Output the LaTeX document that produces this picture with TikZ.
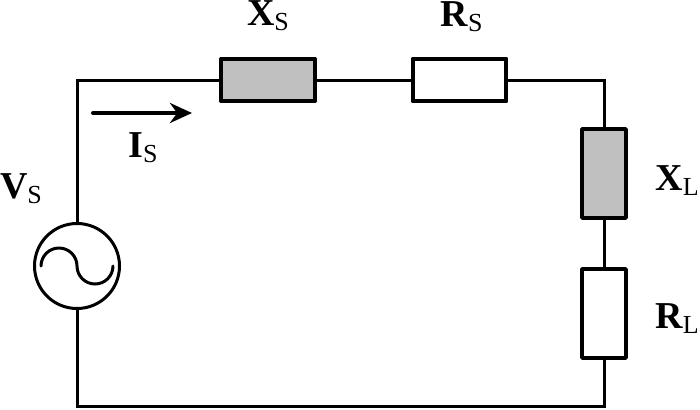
\documentclass[tikz,border=0pt]{standalone}
\usepackage{fontspec}
\setmainfont{Liberation Serif}
\usetikzlibrary{arrows.meta}
\definecolor{boxgray}{RGB}{192,192,192}
\newcommand{\cirlabel}[2]{\textbf{#1}\raisebox{-2.5pt}{\fontsize{13pt}{13pt}\selectfont #2}}
\tikzset{
  wire/.style={line width=1.5pt},
  imp/.style={draw, line width=2.2pt, line join=round, inner sep=0pt},
  zbox/.style={imp, fill=boxgray},
  rbox/.style={imp, fill=white},
  hor/.style={minimum width=46.75pt, minimum height=21.25pt},
  ver/.style={minimum width=21.75pt, minimum height=44.25pt},
  lbl/.style={anchor=base, inner sep=0pt, font=\fontsize{19pt}{19pt}\selectfont}
}
\begin{document}
\begin{tikzpicture}[x=0.5pt,y=0.5pt]
        \useasboundingbox (0,0) rectangle (700,409);

        % Corners
        \coordinate (tl) at (77,329);
        \coordinate (tr) at (604,329);
        \coordinate (br) at (604,3);
        \coordinate (bl) at (77,3);

        % Elements
        \node[zbox, hor] (xs) at (268,329) {};
        \node[rbox, hor] (rs) at (459.5,329) {};
        \node[zbox, ver] (xl) at (604,235.5) {};
        \node[rbox, ver] (rl) at (604,95.5) {};
        \node[draw, circle, wire, minimum size=42.5pt, inner sep=0pt] (src) at (77,143) {};
        \draw[wire, line cap=round] ([xshift=-18pt]src.center) arc (180:0:9pt) arc (180:360:9pt);

        % Lines
        \draw[wire] (src.north) -- (tl) -- (xs.west);
        \draw[wire] (xs.east) -- (rs.west);
        \draw[wire] (rs.east) -- (tr) -- (xl.north);
        \draw[wire] (xl.south) -- (rl.north);
        \draw[wire] (rl.south) -- (br) -- (bl) -- (src.south);

        % Current
        \coordinate (ia) at (93,296);
        \coordinate (ib) at (192,296);
        \draw[line width=2pt, line cap=round, -{Stealth[length=11pt,width=10pt]}] (ia) -- (ib);

        % Labels
        \node[lbl] (xslbl) at (268,384) {\cirlabel{X}{S}};
        \node[lbl] (rslbl) at (461.5,383) {\cirlabel{R}{S}};
        \node[lbl] (vslbl) at (21,211) {\cirlabel{V}{S}};
        \node[lbl] (islbl) at (143,252) {\cirlabel{I}{S}};
        \node[lbl] (xllbl) at (677,219) {\cirlabel{X}{L}};
        \node[lbl] (rllbl) at (677,81) {\cirlabel{R}{L}};
\end{tikzpicture}
\end{document}
